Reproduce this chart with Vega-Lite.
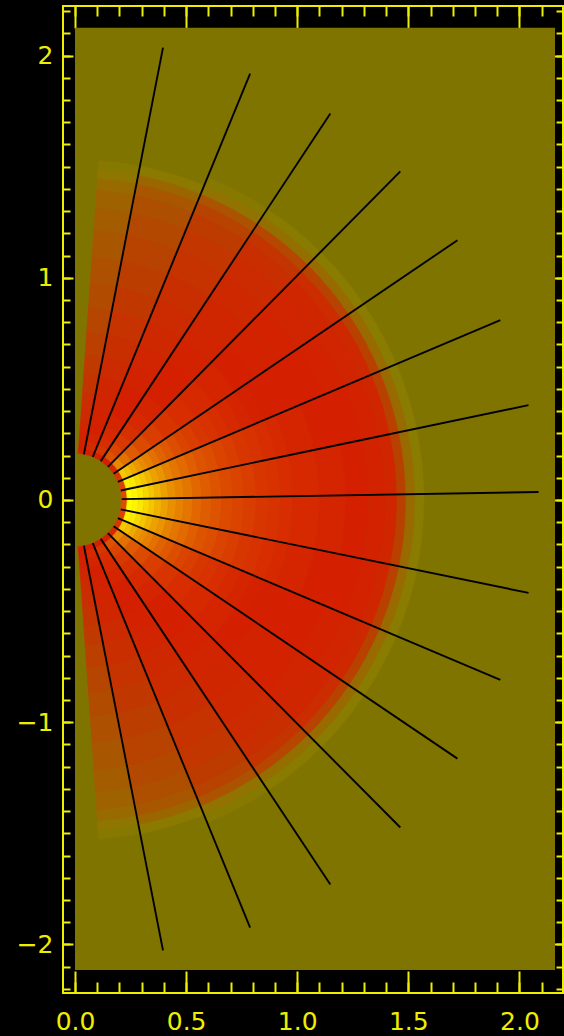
{
"$schema": "https://vega.github.io/schema/vega-lite/v6.json",
"width": 500, "height": 987,
"autosize": {"type": "none"},
"padding": {"left": 63, "top": 6, "right": 1, "bottom": 43},
"background": "#000000",
"config": {"view": {"stroke": "#eeee00", "strokeWidth": 2}, "axis": {"labelColor": "#eeee00", "tickColor": "#eeee00", "tickWidth": 2, "domain": false, "grid": false, "labelFont": "DejaVu Sans", "labelFontSize": 25}},
"datasets": {
"bg": [{"x": 0, "x2": 2.16, "y": -2.115, "y2": 2.125}],
"lines": [
{"x1": 0.040, "y1": 0.206, "x2": 0.396, "y2": 2.036},
{"x1": 0.080, "y1": 0.194, "x2": 0.788, "y2": 1.919},
{"x1": 0.116, "y1": 0.175, "x2": 1.149, "y2": 1.739},
{"x1": 0.148, "y1": 0.149, "x2": 1.464, "y2": 1.479},
{"x1": 0.174, "y1": 0.118, "x2": 1.721, "y2": 1.169},
{"x1": 0.193, "y1": 0.082, "x2": 1.914, "y2": 0.809},
{"x1": 0.206, "y1": 0.043, "x2": 2.041, "y2": 0.427},
{"x1": 0.210, "y1": 0.004, "x2": 2.086, "y2": 0.036},
{"x1": 0.206, "y1": -0.042, "x2": 2.041, "y2": -0.418},
{"x1": 0.193, "y1": -0.082, "x2": 1.914, "y2": -0.809},
{"x1": 0.174, "y1": -0.118, "x2": 1.721, "y2": -1.164},
{"x1": 0.148, "y1": -0.149, "x2": 1.464, "y2": -1.474},
{"x1": 0.116, "y1": -0.175, "x2": 1.149, "y2": -1.730},
{"x1": 0.080, "y1": -0.194, "x2": 0.788, "y2": -1.924},
{"x1": 0.040, "y1": -0.206, "x2": 0.396, "y2": -2.027}
],
"heat": [
{"a":-11.6,"b":11.7,"r":0.21,"s":0.235,"v":0.6},
{"a":-11.6,"b":11.7,"r":0.235,"s":0.26,"v":1.0},
{"a":-11.6,"b":11.7,"r":0.26,"s":0.285,"v":0.98},
{"a":-11.6,"b":11.7,"r":0.285,"s":0.31,"v":0.95},
{"a":-11.6,"b":11.7,"r":0.31,"s":0.335,"v":0.91},
{"a":-11.6,"b":11.7,"r":0.335,"s":0.36,"v":0.87},
{"a":-11.6,"b":11.7,"r":0.36,"s":0.39,"v":0.83},
{"a":-11.6,"b":11.7,"r":0.39,"s":0.42,"v":0.79},
{"a":-11.6,"b":11.7,"r":0.42,"s":0.455,"v":0.75},
{"a":-11.6,"b":11.7,"r":0.455,"s":0.49,"v":0.72},
{"a":-11.6,"b":11.7,"r":0.49,"s":0.53,"v":0.69},
{"a":-11.6,"b":11.7,"r":0.53,"s":0.57,"v":0.66},
{"a":-11.6,"b":11.7,"r":0.57,"s":0.615,"v":0.635},
{"a":-11.6,"b":11.7,"r":0.615,"s":0.66,"v":0.615},
{"a":-11.6,"b":11.7,"r":0.66,"s":0.71,"v":0.595},
{"a":-11.6,"b":11.7,"r":0.71,"s":0.76,"v":0.58},
{"a":-11.6,"b":11.7,"r":0.76,"s":0.815,"v":0.565},
{"a":-11.6,"b":11.7,"r":0.815,"s":0.87,"v":0.55},
{"a":-11.6,"b":11.7,"r":0.87,"s":0.925,"v":0.54},
{"a":-11.6,"b":11.7,"r":0.925,"s":0.98,"v":0.53},
{"a":-11.6,"b":11.7,"r":0.98,"s":1.1,"v":0.52},
{"a":-11.6,"b":11.7,"r":1.1,"s":1.22,"v":0.51},
{"a":-11.6,"b":11.7,"r":1.22,"s":1.32,"v":0.5},
{"a":-11.6,"b":11.7,"r":1.32,"s":1.4,"v":0.49},
{"a":-11.6,"b":11.7,"r":1.4,"s":1.45,"v":0.47},
{"a":-11.6,"b":11.7,"r":1.45,"s":1.49,"v":0.33},
{"a":-11.6,"b":11.7,"r":1.49,"s":1.53,"v":0.12},
{"a":-11.6,"b":11.7,"r":1.53,"s":1.57,"v":0.03},

{"a":11.7,"b":22.8,"r":0.21,"s":0.235,"v":0.58},
{"a":11.7,"b":22.8,"r":0.235,"s":0.26,"v":0.97},
{"a":11.7,"b":22.8,"r":0.26,"s":0.285,"v":0.95},
{"a":11.7,"b":22.8,"r":0.285,"s":0.31,"v":0.91},
{"a":11.7,"b":22.8,"r":0.31,"s":0.335,"v":0.87},
{"a":11.7,"b":22.8,"r":0.335,"s":0.36,"v":0.83},
{"a":11.7,"b":22.8,"r":0.36,"s":0.39,"v":0.79},
{"a":11.7,"b":22.8,"r":0.39,"s":0.42,"v":0.76},
{"a":11.7,"b":22.8,"r":0.42,"s":0.455,"v":0.72},
{"a":11.7,"b":22.8,"r":0.455,"s":0.49,"v":0.69},
{"a":11.7,"b":22.8,"r":0.49,"s":0.53,"v":0.665},
{"a":11.7,"b":22.8,"r":0.53,"s":0.57,"v":0.64},
{"a":11.7,"b":22.8,"r":0.57,"s":0.615,"v":0.615},
{"a":11.7,"b":22.8,"r":0.615,"s":0.66,"v":0.6},
{"a":11.7,"b":22.8,"r":0.66,"s":0.71,"v":0.58},
{"a":11.7,"b":22.8,"r":0.71,"s":0.76,"v":0.565},
{"a":11.7,"b":22.8,"r":0.76,"s":0.815,"v":0.55},
{"a":11.7,"b":22.8,"r":0.815,"s":0.87,"v":0.54},
{"a":11.7,"b":22.8,"r":0.87,"s":0.925,"v":0.53},
{"a":11.7,"b":22.8,"r":0.925,"s":0.98,"v":0.52},
{"a":11.7,"b":22.8,"r":0.98,"s":1.1,"v":0.51},
{"a":11.7,"b":22.8,"r":1.1,"s":1.22,"v":0.5},
{"a":11.7,"b":22.8,"r":1.22,"s":1.32,"v":0.5},
{"a":11.7,"b":22.8,"r":1.32,"s":1.4,"v":0.49},
{"a":11.7,"b":22.8,"r":1.4,"s":1.45,"v":0.47},
{"a":11.7,"b":22.8,"r":1.45,"s":1.49,"v":0.33},
{"a":11.7,"b":22.8,"r":1.49,"s":1.53,"v":0.12},
{"a":11.7,"b":22.8,"r":1.53,"s":1.57,"v":0.03},

{"a":-22.8,"b":-11.6,"r":0.21,"s":0.235,"v":0.58},
{"a":-22.8,"b":-11.6,"r":0.235,"s":0.26,"v":0.97},
{"a":-22.8,"b":-11.6,"r":0.26,"s":0.285,"v":0.95},
{"a":-22.8,"b":-11.6,"r":0.285,"s":0.31,"v":0.91},
{"a":-22.8,"b":-11.6,"r":0.31,"s":0.335,"v":0.87},
{"a":-22.8,"b":-11.6,"r":0.335,"s":0.36,"v":0.83},
{"a":-22.8,"b":-11.6,"r":0.36,"s":0.39,"v":0.79},
{"a":-22.8,"b":-11.6,"r":0.39,"s":0.42,"v":0.76},
{"a":-22.8,"b":-11.6,"r":0.42,"s":0.455,"v":0.72},
{"a":-22.8,"b":-11.6,"r":0.455,"s":0.49,"v":0.69},
{"a":-22.8,"b":-11.6,"r":0.49,"s":0.53,"v":0.665},
{"a":-22.8,"b":-11.6,"r":0.53,"s":0.57,"v":0.64},
{"a":-22.8,"b":-11.6,"r":0.57,"s":0.615,"v":0.615},
{"a":-22.8,"b":-11.6,"r":0.615,"s":0.66,"v":0.6},
{"a":-22.8,"b":-11.6,"r":0.66,"s":0.71,"v":0.58},
{"a":-22.8,"b":-11.6,"r":0.71,"s":0.76,"v":0.565},
{"a":-22.8,"b":-11.6,"r":0.76,"s":0.815,"v":0.55},
{"a":-22.8,"b":-11.6,"r":0.815,"s":0.87,"v":0.54},
{"a":-22.8,"b":-11.6,"r":0.87,"s":0.925,"v":0.53},
{"a":-22.8,"b":-11.6,"r":0.925,"s":0.98,"v":0.52},
{"a":-22.8,"b":-11.6,"r":0.98,"s":1.1,"v":0.51},
{"a":-22.8,"b":-11.6,"r":1.1,"s":1.22,"v":0.5},
{"a":-22.8,"b":-11.6,"r":1.22,"s":1.32,"v":0.5},
{"a":-22.8,"b":-11.6,"r":1.32,"s":1.4,"v":0.49},
{"a":-22.8,"b":-11.6,"r":1.4,"s":1.45,"v":0.47},
{"a":-22.8,"b":-11.6,"r":1.45,"s":1.49,"v":0.33},
{"a":-22.8,"b":-11.6,"r":1.49,"s":1.53,"v":0.12},
{"a":-22.8,"b":-11.6,"r":1.53,"s":1.57,"v":0.03},

{"a":22.8,"b":34.1,"r":0.21,"s":0.235,"v":0.55},
{"a":22.8,"b":34.1,"r":0.235,"s":0.26,"v":0.88},
{"a":22.8,"b":34.1,"r":0.26,"s":0.285,"v":0.85},
{"a":22.8,"b":34.1,"r":0.285,"s":0.31,"v":0.81},
{"a":22.8,"b":34.1,"r":0.31,"s":0.335,"v":0.77},
{"a":22.8,"b":34.1,"r":0.335,"s":0.36,"v":0.74},
{"a":22.8,"b":34.1,"r":0.36,"s":0.39,"v":0.71},
{"a":22.8,"b":34.1,"r":0.39,"s":0.42,"v":0.68},
{"a":22.8,"b":34.1,"r":0.42,"s":0.455,"v":0.65},
{"a":22.8,"b":34.1,"r":0.455,"s":0.49,"v":0.625},
{"a":22.8,"b":34.1,"r":0.49,"s":0.53,"v":0.6},
{"a":22.8,"b":34.1,"r":0.53,"s":0.57,"v":0.58},
{"a":22.8,"b":34.1,"r":0.57,"s":0.615,"v":0.565},
{"a":22.8,"b":34.1,"r":0.615,"s":0.66,"v":0.55},
{"a":22.8,"b":34.1,"r":0.66,"s":0.71,"v":0.54},
{"a":22.8,"b":34.1,"r":0.71,"s":0.76,"v":0.53},
{"a":22.8,"b":34.1,"r":0.76,"s":0.815,"v":0.52},
{"a":22.8,"b":34.1,"r":0.815,"s":0.87,"v":0.51},
{"a":22.8,"b":34.1,"r":0.87,"s":0.925,"v":0.505},
{"a":22.8,"b":34.1,"r":0.925,"s":0.98,"v":0.5},
{"a":22.8,"b":34.1,"r":0.98,"s":1.1,"v":0.5},
{"a":22.8,"b":34.1,"r":1.1,"s":1.22,"v":0.5},
{"a":22.8,"b":34.1,"r":1.22,"s":1.32,"v":0.49},
{"a":22.8,"b":34.1,"r":1.32,"s":1.4,"v":0.48},
{"a":22.8,"b":34.1,"r":1.4,"s":1.45,"v":0.46},
{"a":22.8,"b":34.1,"r":1.45,"s":1.49,"v":0.33},
{"a":22.8,"b":34.1,"r":1.49,"s":1.53,"v":0.12},
{"a":22.8,"b":34.1,"r":1.53,"s":1.57,"v":0.03},

{"a":-34.1,"b":-22.8,"r":0.21,"s":0.235,"v":0.55},
{"a":-34.1,"b":-22.8,"r":0.235,"s":0.26,"v":0.88},
{"a":-34.1,"b":-22.8,"r":0.26,"s":0.285,"v":0.85},
{"a":-34.1,"b":-22.8,"r":0.285,"s":0.31,"v":0.81},
{"a":-34.1,"b":-22.8,"r":0.31,"s":0.335,"v":0.77},
{"a":-34.1,"b":-22.8,"r":0.335,"s":0.36,"v":0.74},
{"a":-34.1,"b":-22.8,"r":0.36,"s":0.39,"v":0.71},
{"a":-34.1,"b":-22.8,"r":0.39,"s":0.42,"v":0.68},
{"a":-34.1,"b":-22.8,"r":0.42,"s":0.455,"v":0.65},
{"a":-34.1,"b":-22.8,"r":0.455,"s":0.49,"v":0.625},
{"a":-34.1,"b":-22.8,"r":0.49,"s":0.53,"v":0.6},
{"a":-34.1,"b":-22.8,"r":0.53,"s":0.57,"v":0.58},
{"a":-34.1,"b":-22.8,"r":0.57,"s":0.615,"v":0.565},
{"a":-34.1,"b":-22.8,"r":0.615,"s":0.66,"v":0.55},
{"a":-34.1,"b":-22.8,"r":0.66,"s":0.71,"v":0.54},
{"a":-34.1,"b":-22.8,"r":0.71,"s":0.76,"v":0.53},
{"a":-34.1,"b":-22.8,"r":0.76,"s":0.815,"v":0.52},
{"a":-34.1,"b":-22.8,"r":0.815,"s":0.87,"v":0.51},
{"a":-34.1,"b":-22.8,"r":0.87,"s":0.925,"v":0.505},
{"a":-34.1,"b":-22.8,"r":0.925,"s":0.98,"v":0.5},
{"a":-34.1,"b":-22.8,"r":0.98,"s":1.1,"v":0.5},
{"a":-34.1,"b":-22.8,"r":1.1,"s":1.22,"v":0.5},
{"a":-34.1,"b":-22.8,"r":1.22,"s":1.32,"v":0.49},
{"a":-34.1,"b":-22.8,"r":1.32,"s":1.4,"v":0.48},
{"a":-34.1,"b":-22.8,"r":1.4,"s":1.45,"v":0.46},
{"a":-34.1,"b":-22.8,"r":1.45,"s":1.49,"v":0.33},
{"a":-34.1,"b":-22.8,"r":1.49,"s":1.53,"v":0.12},
{"a":-34.1,"b":-22.8,"r":1.53,"s":1.57,"v":0.03},

{"a":34.1,"b":45.2,"r":0.21,"s":0.235,"v":0.52},
{"a":34.1,"b":45.2,"r":0.235,"s":0.27,"v":0.73},
{"a":34.1,"b":45.2,"r":0.27,"s":0.31,"v":0.68},
{"a":34.1,"b":45.2,"r":0.31,"s":0.36,"v":0.63},
{"a":34.1,"b":45.2,"r":0.36,"s":0.42,"v":0.595},
{"a":34.1,"b":45.2,"r":0.42,"s":0.49,"v":0.565},
{"a":34.1,"b":45.2,"r":0.49,"s":0.57,"v":0.545},
{"a":34.1,"b":45.2,"r":0.57,"s":0.66,"v":0.53},
{"a":34.1,"b":45.2,"r":0.66,"s":0.76,"v":0.52},
{"a":34.1,"b":45.2,"r":0.76,"s":0.87,"v":0.51},
{"a":34.1,"b":45.2,"r":0.87,"s":0.98,"v":0.5},
{"a":34.1,"b":45.2,"r":0.98,"s":1.1,"v":0.49},
{"a":34.1,"b":45.2,"r":1.1,"s":1.22,"v":0.49},
{"a":34.1,"b":45.2,"r":1.22,"s":1.32,"v":0.48},
{"a":34.1,"b":45.2,"r":1.32,"s":1.4,"v":0.47},
{"a":34.1,"b":45.2,"r":1.4,"s":1.45,"v":0.44},
{"a":34.1,"b":45.2,"r":1.45,"s":1.49,"v":0.32},
{"a":34.1,"b":45.2,"r":1.49,"s":1.53,"v":0.12},
{"a":34.1,"b":45.2,"r":1.53,"s":1.57,"v":0.03},

{"a":-45.2,"b":-34.1,"r":0.21,"s":0.235,"v":0.52},
{"a":-45.2,"b":-34.1,"r":0.235,"s":0.27,"v":0.73},
{"a":-45.2,"b":-34.1,"r":0.27,"s":0.31,"v":0.68},
{"a":-45.2,"b":-34.1,"r":0.31,"s":0.36,"v":0.63},
{"a":-45.2,"b":-34.1,"r":0.36,"s":0.42,"v":0.595},
{"a":-45.2,"b":-34.1,"r":0.42,"s":0.49,"v":0.565},
{"a":-45.2,"b":-34.1,"r":0.49,"s":0.57,"v":0.545},
{"a":-45.2,"b":-34.1,"r":0.57,"s":0.66,"v":0.53},
{"a":-45.2,"b":-34.1,"r":0.66,"s":0.76,"v":0.52},
{"a":-45.2,"b":-34.1,"r":0.76,"s":0.87,"v":0.51},
{"a":-45.2,"b":-34.1,"r":0.87,"s":0.98,"v":0.5},
{"a":-45.2,"b":-34.1,"r":0.98,"s":1.1,"v":0.49},
{"a":-45.2,"b":-34.1,"r":1.1,"s":1.22,"v":0.49},
{"a":-45.2,"b":-34.1,"r":1.22,"s":1.32,"v":0.48},
{"a":-45.2,"b":-34.1,"r":1.32,"s":1.4,"v":0.47},
{"a":-45.2,"b":-34.1,"r":1.4,"s":1.45,"v":0.44},
{"a":-45.2,"b":-34.1,"r":1.45,"s":1.49,"v":0.32},
{"a":-45.2,"b":-34.1,"r":1.49,"s":1.53,"v":0.12},
{"a":-45.2,"b":-34.1,"r":1.53,"s":1.57,"v":0.03},

{"a":45.2,"b":56.4,"r":0.21,"s":0.235,"v":0.5},
{"a":45.2,"b":56.4,"r":0.235,"s":0.27,"v":0.61},
{"a":45.2,"b":56.4,"r":0.27,"s":0.31,"v":0.58},
{"a":45.2,"b":56.4,"r":0.31,"s":0.36,"v":0.555},
{"a":45.2,"b":56.4,"r":0.36,"s":0.42,"v":0.535},
{"a":45.2,"b":56.4,"r":0.42,"s":0.49,"v":0.52},
{"a":45.2,"b":56.4,"r":0.49,"s":0.57,"v":0.51},
{"a":45.2,"b":56.4,"r":0.57,"s":0.66,"v":0.5},
{"a":45.2,"b":56.4,"r":0.66,"s":0.76,"v":0.5},
{"a":45.2,"b":56.4,"r":0.76,"s":0.87,"v":0.49},
{"a":45.2,"b":56.4,"r":0.87,"s":0.98,"v":0.48},
{"a":45.2,"b":56.4,"r":0.98,"s":1.1,"v":0.47},
{"a":45.2,"b":56.4,"r":1.1,"s":1.22,"v":0.46},
{"a":45.2,"b":56.4,"r":1.22,"s":1.32,"v":0.45},
{"a":45.2,"b":56.4,"r":1.32,"s":1.4,"v":0.43},
{"a":45.2,"b":56.4,"r":1.4,"s":1.45,"v":0.4},
{"a":45.2,"b":56.4,"r":1.45,"s":1.49,"v":0.3},
{"a":45.2,"b":56.4,"r":1.49,"s":1.53,"v":0.1},
{"a":45.2,"b":56.4,"r":1.53,"s":1.57,"v":0.025},

{"a":-56.4,"b":-45.2,"r":0.21,"s":0.235,"v":0.5},
{"a":-56.4,"b":-45.2,"r":0.235,"s":0.27,"v":0.61},
{"a":-56.4,"b":-45.2,"r":0.27,"s":0.31,"v":0.58},
{"a":-56.4,"b":-45.2,"r":0.31,"s":0.36,"v":0.555},
{"a":-56.4,"b":-45.2,"r":0.36,"s":0.42,"v":0.535},
{"a":-56.4,"b":-45.2,"r":0.42,"s":0.49,"v":0.52},
{"a":-56.4,"b":-45.2,"r":0.49,"s":0.57,"v":0.51},
{"a":-56.4,"b":-45.2,"r":0.57,"s":0.66,"v":0.5},
{"a":-56.4,"b":-45.2,"r":0.66,"s":0.76,"v":0.5},
{"a":-56.4,"b":-45.2,"r":0.76,"s":0.87,"v":0.49},
{"a":-56.4,"b":-45.2,"r":0.87,"s":0.98,"v":0.48},
{"a":-56.4,"b":-45.2,"r":0.98,"s":1.1,"v":0.47},
{"a":-56.4,"b":-45.2,"r":1.1,"s":1.22,"v":0.46},
{"a":-56.4,"b":-45.2,"r":1.22,"s":1.32,"v":0.45},
{"a":-56.4,"b":-45.2,"r":1.32,"s":1.4,"v":0.43},
{"a":-56.4,"b":-45.2,"r":1.4,"s":1.45,"v":0.4},
{"a":-56.4,"b":-45.2,"r":1.45,"s":1.49,"v":0.3},
{"a":-56.4,"b":-45.2,"r":1.49,"s":1.53,"v":0.1},
{"a":-56.4,"b":-45.2,"r":1.53,"s":1.57,"v":0.025},

{"a":56.4,"b":67.6,"r":0.21,"s":0.235,"v":0.5},
{"a":56.4,"b":67.6,"r":0.235,"s":0.27,"v":0.55},
{"a":56.4,"b":67.6,"r":0.27,"s":0.31,"v":0.53},
{"a":56.4,"b":67.6,"r":0.31,"s":0.36,"v":0.52},
{"a":56.4,"b":67.6,"r":0.36,"s":0.42,"v":0.51},
{"a":56.4,"b":67.6,"r":0.42,"s":0.49,"v":0.5},
{"a":56.4,"b":67.6,"r":0.49,"s":0.57,"v":0.5},
{"a":56.4,"b":67.6,"r":0.57,"s":0.66,"v":0.49},
{"a":56.4,"b":67.6,"r":0.66,"s":0.76,"v":0.48},
{"a":56.4,"b":67.6,"r":0.76,"s":0.87,"v":0.46},
{"a":56.4,"b":67.6,"r":0.87,"s":0.98,"v":0.45},
{"a":56.4,"b":67.6,"r":0.98,"s":1.1,"v":0.43},
{"a":56.4,"b":67.6,"r":1.1,"s":1.22,"v":0.41},
{"a":56.4,"b":67.6,"r":1.22,"s":1.32,"v":0.39},
{"a":56.4,"b":67.6,"r":1.32,"s":1.4,"v":0.36},
{"a":56.4,"b":67.6,"r":1.4,"s":1.45,"v":0.32},
{"a":56.4,"b":67.6,"r":1.45,"s":1.49,"v":0.24},
{"a":56.4,"b":67.6,"r":1.49,"s":1.53,"v":0.08},
{"a":56.4,"b":67.6,"r":1.53,"s":1.57,"v":0.02},

{"a":-67.6,"b":-56.4,"r":0.21,"s":0.235,"v":0.5},
{"a":-67.6,"b":-56.4,"r":0.235,"s":0.27,"v":0.55},
{"a":-67.6,"b":-56.4,"r":0.27,"s":0.31,"v":0.53},
{"a":-67.6,"b":-56.4,"r":0.31,"s":0.36,"v":0.52},
{"a":-67.6,"b":-56.4,"r":0.36,"s":0.42,"v":0.51},
{"a":-67.6,"b":-56.4,"r":0.42,"s":0.49,"v":0.5},
{"a":-67.6,"b":-56.4,"r":0.49,"s":0.57,"v":0.5},
{"a":-67.6,"b":-56.4,"r":0.57,"s":0.66,"v":0.49},
{"a":-67.6,"b":-56.4,"r":0.66,"s":0.76,"v":0.48},
{"a":-67.6,"b":-56.4,"r":0.76,"s":0.87,"v":0.46},
{"a":-67.6,"b":-56.4,"r":0.87,"s":0.98,"v":0.45},
{"a":-67.6,"b":-56.4,"r":0.98,"s":1.1,"v":0.43},
{"a":-67.6,"b":-56.4,"r":1.1,"s":1.22,"v":0.41},
{"a":-67.6,"b":-56.4,"r":1.22,"s":1.32,"v":0.39},
{"a":-67.6,"b":-56.4,"r":1.32,"s":1.4,"v":0.36},
{"a":-67.6,"b":-56.4,"r":1.4,"s":1.45,"v":0.32},
{"a":-67.6,"b":-56.4,"r":1.45,"s":1.49,"v":0.24},
{"a":-67.6,"b":-56.4,"r":1.49,"s":1.53,"v":0.08},
{"a":-67.6,"b":-56.4,"r":1.53,"s":1.57,"v":0.02},

{"a":67.6,"b":78.9,"r":0.21,"s":0.235,"v":0.5},
{"a":67.6,"b":78.9,"r":0.235,"s":0.27,"v":0.52},
{"a":67.6,"b":78.9,"r":0.27,"s":0.31,"v":0.51},
{"a":67.6,"b":78.9,"r":0.31,"s":0.36,"v":0.5},
{"a":67.6,"b":78.9,"r":0.36,"s":0.42,"v":0.49},
{"a":67.6,"b":78.9,"r":0.42,"s":0.49,"v":0.48},
{"a":67.6,"b":78.9,"r":0.49,"s":0.57,"v":0.47},
{"a":67.6,"b":78.9,"r":0.57,"s":0.66,"v":0.45},
{"a":67.6,"b":78.9,"r":0.66,"s":0.76,"v":0.43},
{"a":67.6,"b":78.9,"r":0.76,"s":0.87,"v":0.41},
{"a":67.6,"b":78.9,"r":0.87,"s":0.98,"v":0.38},
{"a":67.6,"b":78.9,"r":0.98,"s":1.1,"v":0.35},
{"a":67.6,"b":78.9,"r":1.1,"s":1.22,"v":0.32},
{"a":67.6,"b":78.9,"r":1.22,"s":1.32,"v":0.29},
{"a":67.6,"b":78.9,"r":1.32,"s":1.4,"v":0.26},
{"a":67.6,"b":78.9,"r":1.4,"s":1.45,"v":0.22},
{"a":67.6,"b":78.9,"r":1.45,"s":1.49,"v":0.14},
{"a":67.6,"b":78.9,"r":1.49,"s":1.53,"v":0.04},

{"a":-78.9,"b":-67.6,"r":0.21,"s":0.235,"v":0.5},
{"a":-78.9,"b":-67.6,"r":0.235,"s":0.27,"v":0.52},
{"a":-78.9,"b":-67.6,"r":0.27,"s":0.31,"v":0.51},
{"a":-78.9,"b":-67.6,"r":0.31,"s":0.36,"v":0.5},
{"a":-78.9,"b":-67.6,"r":0.36,"s":0.42,"v":0.49},
{"a":-78.9,"b":-67.6,"r":0.42,"s":0.49,"v":0.48},
{"a":-78.9,"b":-67.6,"r":0.49,"s":0.57,"v":0.47},
{"a":-78.9,"b":-67.6,"r":0.57,"s":0.66,"v":0.45},
{"a":-78.9,"b":-67.6,"r":0.66,"s":0.76,"v":0.43},
{"a":-78.9,"b":-67.6,"r":0.76,"s":0.87,"v":0.41},
{"a":-78.9,"b":-67.6,"r":0.87,"s":0.98,"v":0.38},
{"a":-78.9,"b":-67.6,"r":0.98,"s":1.1,"v":0.35},
{"a":-78.9,"b":-67.6,"r":1.1,"s":1.22,"v":0.32},
{"a":-78.9,"b":-67.6,"r":1.22,"s":1.32,"v":0.29},
{"a":-78.9,"b":-67.6,"r":1.32,"s":1.4,"v":0.26},
{"a":-78.9,"b":-67.6,"r":1.4,"s":1.45,"v":0.22},
{"a":-78.9,"b":-67.6,"r":1.45,"s":1.49,"v":0.14},
{"a":-78.9,"b":-67.6,"r":1.49,"s":1.53,"v":0.04},

{"a":78.9,"b":86,"r":0.21,"s":0.235,"v":0.5},
{"a":78.9,"b":86,"r":0.235,"s":0.27,"v":0.5},
{"a":78.9,"b":86,"r":0.27,"s":0.31,"v":0.49},
{"a":78.9,"b":86,"r":0.31,"s":0.36,"v":0.47},
{"a":78.9,"b":86,"r":0.36,"s":0.42,"v":0.45},
{"a":78.9,"b":86,"r":0.42,"s":0.49,"v":0.43},
{"a":78.9,"b":86,"r":0.49,"s":0.57,"v":0.4},
{"a":78.9,"b":86,"r":0.57,"s":0.66,"v":0.37},
{"a":78.9,"b":86,"r":0.66,"s":0.76,"v":0.34},
{"a":78.9,"b":86,"r":0.76,"s":0.87,"v":0.31},
{"a":78.9,"b":86,"r":0.87,"s":0.98,"v":0.28},
{"a":78.9,"b":86,"r":0.98,"s":1.1,"v":0.25},
{"a":78.9,"b":86,"r":1.1,"s":1.22,"v":0.22},
{"a":78.9,"b":86,"r":1.22,"s":1.32,"v":0.19},
{"a":78.9,"b":86,"r":1.32,"s":1.4,"v":0.16},
{"a":78.9,"b":86,"r":1.4,"s":1.45,"v":0.12},
{"a":78.9,"b":86,"r":1.45,"s":1.49,"v":0.06},
{"a":78.9,"b":86,"r":1.49,"s":1.53,"v":0.02},

{"a":-86,"b":-78.9,"r":0.21,"s":0.235,"v":0.5},
{"a":-86,"b":-78.9,"r":0.235,"s":0.27,"v":0.5},
{"a":-86,"b":-78.9,"r":0.27,"s":0.31,"v":0.49},
{"a":-86,"b":-78.9,"r":0.31,"s":0.36,"v":0.47},
{"a":-86,"b":-78.9,"r":0.36,"s":0.42,"v":0.45},
{"a":-86,"b":-78.9,"r":0.42,"s":0.49,"v":0.43},
{"a":-86,"b":-78.9,"r":0.49,"s":0.57,"v":0.4},
{"a":-86,"b":-78.9,"r":0.57,"s":0.66,"v":0.37},
{"a":-86,"b":-78.9,"r":0.66,"s":0.76,"v":0.34},
{"a":-86,"b":-78.9,"r":0.76,"s":0.87,"v":0.31},
{"a":-86,"b":-78.9,"r":0.87,"s":0.98,"v":0.28},
{"a":-86,"b":-78.9,"r":0.98,"s":1.1,"v":0.25},
{"a":-86,"b":-78.9,"r":1.1,"s":1.22,"v":0.22},
{"a":-86,"b":-78.9,"r":1.22,"s":1.32,"v":0.19},
{"a":-86,"b":-78.9,"r":1.32,"s":1.4,"v":0.16},
{"a":-86,"b":-78.9,"r":1.4,"s":1.45,"v":0.12},
{"a":-86,"b":-78.9,"r":1.45,"s":1.49,"v":0.06},
{"a":-86,"b":-78.9,"r":1.49,"s":1.53,"v":0.02}
]
},
"resolve": {"axis": {"x": "independent", "y": "independent"}},
"layer": [
{"data": {"name": "bg"}, "mark": {"type": "rect", "fill": "#807400"},
 "encoding": {
  "x": {"field": "x", "type": "quantitative", "scale": {"domain": [-0.054, 2.196], "nice": false, "zero": false},
        "axis": {"orient": "bottom", "values": [0, 0.5, 1, 1.5, 2], "format": ".1f", "ticks": false, "labelPadding": 16, "labelFlush": false, "labelOverlap": false, "title": null}},
  "x2": {"field": "x2"},
  "y": {"field": "y", "type": "quantitative", "scale": {"domain": [-2.2187, 2.2232], "nice": false, "zero": false},
        "axis": {"orient": "left", "values": [-2, -1, 0, 1, 2], "format": "d", "ticks": false, "labelPadding": 10, "labelFlush": false, "labelOverlap": false, "title": null}},
  "y2": {"field": "y2"}}},
{"data": {"name": "heat"}, "mark": {"type": "arc", "strokeWidth": 0.6},
 "encoding": {
  "x": {"datum": 0, "type": "quantitative", "scale": {"domain": [-0.054, 2.196], "nice": false, "zero": false}, "axis": null},
  "y": {"datum": 0, "type": "quantitative", "scale": {"domain": [-2.2187, 2.2232], "nice": false, "zero": false}, "axis": null},
  "theta": {"field": "a", "type": "quantitative", "stack": null, "scale": {"type": "linear", "domain": [90, -270], "range": [0, 6.283185307]}},
  "theta2": {"field": "b"},
  "radius": {"field": "s", "type": "quantitative", "scale": {"type": "linear", "domain": [0, 1], "range": [0, 222.2], "zero": true}},
  "radius2": {"field": "r"},
  "color": {"field": "v", "type": "quantitative", "scale": {"domain": [0, 0.03, 0.5, 1], "range": ["#807400", "#8a7c00", "#d42000", "#ffff00"], "interpolate": "rgb"}, "legend": null},
  "stroke": {"field": "v", "type": "quantitative", "scale": {"domain": [0, 0.03, 0.5, 1], "range": ["#807400", "#8a7c00", "#d42000", "#ffff00"], "interpolate": "rgb"}, "legend": null}}},
{"data": {"name": "lines"}, "mark": {"type": "rule", "color": "#000000", "strokeWidth": 1.9},
 "encoding": {
  "x": {"field": "x1", "type": "quantitative", "scale": {"domain": [-0.054, 2.196], "nice": false, "zero": false},
        "axis": {"orient": "bottom", "values": [0, 0.5, 1, 1.5, 2], "tickSize": -22, "labels": false, "title": null}},
  "y": {"field": "y1", "type": "quantitative", "scale": {"domain": [-2.2187, 2.2232], "nice": false, "zero": false},
        "axis": {"orient": "left", "values": [-2, -1, 0, 1, 2], "tickSize": -10, "labels": false, "title": null}},
  "x2": {"field": "x2"}, "y2": {"field": "y2"}}},
{"data": {"name": "bg"}, "mark": {"type": "rect", "fillOpacity": 0},
 "encoding": {
  "x": {"field": "x", "type": "quantitative", "scale": {"domain": [-0.054, 2.196], "nice": false, "zero": false},
        "axis": {"orient": "bottom", "values": [0,0.1,0.2,0.3,0.4,0.5,0.6,0.7,0.8,0.9,1,1.1,1.2,1.3,1.4,1.5,1.6,1.7,1.8,1.9,2,2.1], "tickSize": -11, "labels": false, "title": null}},
  "x2": {"field": "x2"},
  "y": {"field": "y", "type": "quantitative", "scale": {"domain": [-2.2187, 2.2232], "nice": false, "zero": false},
        "axis": {"orient": "left", "values": [-2.2,-2.1,-2,-1.9,-1.8,-1.7,-1.6,-1.5,-1.4,-1.3,-1.2,-1.1,-1,-0.9,-0.8,-0.7,-0.6,-0.5,-0.4,-0.3,-0.2,-0.1,0,0.1,0.2,0.3,0.4,0.5,0.6,0.7,0.8,0.9,1,1.1,1.2,1.3,1.4,1.5,1.6,1.7,1.8,1.9,2,2.1,2.2], "tickSize": -7, "labels": false, "title": null}},
  "y2": {"field": "y2"}}},
{"data": {"name": "bg"}, "mark": {"type": "rect", "fillOpacity": 0},
 "encoding": {
  "x": {"field": "x", "type": "quantitative", "scale": {"domain": [-0.054, 2.196], "nice": false, "zero": false},
        "axis": {"orient": "top", "values": [0, 0.5, 1, 1.5, 2], "tickSize": -22, "labels": false, "title": null}},
  "x2": {"field": "x2"},
  "y": {"field": "y", "type": "quantitative", "scale": {"domain": [-2.2187, 2.2232], "nice": false, "zero": false},
        "axis": {"orient": "right", "values": [-2, -1, 0, 1, 2], "tickSize": -10, "labels": false, "title": null}},
  "y2": {"field": "y2"}}},
{"data": {"name": "bg"}, "mark": {"type": "rect", "fillOpacity": 0},
 "encoding": {
  "x": {"field": "x", "type": "quantitative", "scale": {"domain": [-0.054, 2.196], "nice": false, "zero": false},
        "axis": {"orient": "top", "values": [0,0.1,0.2,0.3,0.4,0.5,0.6,0.7,0.8,0.9,1,1.1,1.2,1.3,1.4,1.5,1.6,1.7,1.8,1.9,2,2.1], "tickSize": -10, "labels": false, "title": null}},
  "x2": {"field": "x2"},
  "y": {"field": "y", "type": "quantitative", "scale": {"domain": [-2.2187, 2.2232], "nice": false, "zero": false},
        "axis": {"orient": "right", "values": [-2.2,-2.1,-2,-1.9,-1.8,-1.7,-1.6,-1.5,-1.4,-1.3,-1.2,-1.1,-1,-0.9,-0.8,-0.7,-0.6,-0.5,-0.4,-0.3,-0.2,-0.1,0,0.1,0.2,0.3,0.4,0.5,0.6,0.7,0.8,0.9,1,1.1,1.2,1.3,1.4,1.5,1.6,1.7,1.8,1.9,2,2.1,2.2], "tickSize": -7, "labels": false, "title": null}},
  "y2": {"field": "y2"}}}
]
}
